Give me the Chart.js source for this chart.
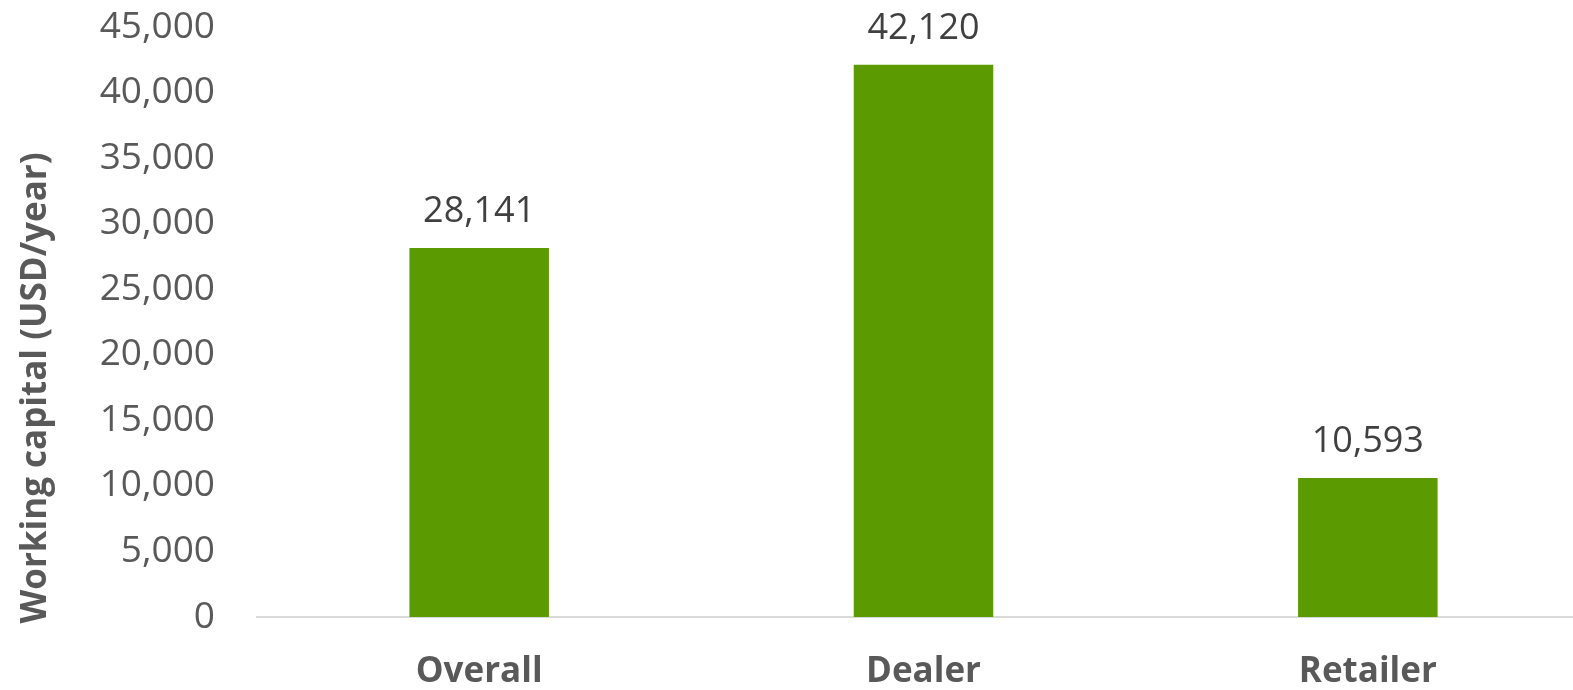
<!DOCTYPE html>
<html>
<head>
<meta charset="utf-8">
<script src="https://cdn.jsdelivr.net/npm/chart.js@4"></script>
<style>
  html, body { margin: 0; padding: 0; background: #fff; overflow: hidden; }
  #wrap { width: 1590px; height: 690px; }
</style>
</head>
<body>
<div id="wrap"><canvas id="chart" width="1590" height="690"></canvas></div>
<script>
const categories = ["Overall", "Dealer", "Retailer"];
const workingCapital = [28141, 42120, 10593];
const yTicks = [0, 5000, 10000, 15000, 20000, 25000, 30000, 35000, 40000, 45000];
const yTitle = "Working capital (USD/year)";

const FONT = "'Open Sans', 'Noto Sans', sans-serif";
const GREY = "#595959";

const fmt = (v) => v.toLocaleString("en-US");

// value labels above each bar
const valueLabels = {
    id: "valueLabels",
    afterDatasetsDraw(chart) {
        const ctx = chart.ctx;
        const meta = chart.getDatasetMeta(0);
        ctx.save();
        ctx.font = "36px " + FONT;
        ctx.fillStyle = "#404040";
        ctx.textAlign = "center";
        ctx.textBaseline = "middle";
        meta.data.forEach((bar, i) => {
            ctx.fillText(fmt(workingCapital[i]), bar.x, bar.y - 36);
        });
        ctx.restore();
    }
};

// rotated axis title, sits a bit lower than the axis centre
const axisTitle = {
    id: "axisTitle",
    afterDraw(chart) {
        const ctx = chart.ctx;
        ctx.save();
        ctx.translate(36, 388);
        ctx.rotate(-Math.PI / 2);
        ctx.font = "bold 35px " + FONT;
        ctx.fillStyle = GREY;
        ctx.textAlign = "center";
        ctx.textBaseline = "middle";
        ctx.fillText(yTitle, 0, 0);
        ctx.restore();
    }
};

new Chart(document.getElementById("chart"), {
    type: "bar",
    data: {
        labels: categories,
        datasets: [{
            data: workingCapital,
            backgroundColor: "#5b9a00",
            barPercentage: 1,
            categoryPercentage: 0.314
        }]
    },
    options: {
        responsive: false,
        animation: false,
        layout: {padding: {top: 27, right: 0, left: 0, bottom: 0}},
        plugins: {legend: {display: false}, tooltip: {enabled: false}},
        scales: {
            x: {
                grid: {display: false, drawTicks: false},
                border: {display: true, color: "#d9d9d9", width: 2},
                ticks: {
                    color: GREY,
                    padding: 34,
                    font: {family: FONT, size: 35, weight: "bold"}
                },
                afterFit: (s) => { s.height = 73; s.paddingLeft = 0; s.paddingRight = 0; }
            },
            y: {
                min: 0,
                max: 45000,
                grid: {display: false, drawTicks: false},
                border: {display: false},
                afterBuildTicks: (s) => { s.ticks = yTicks.map((v) => ({value: v})); },
                ticks: {
                    color: GREY,
                    padding: 42,
                    font: {family: FONT, size: 37},
                    callback: (v) => fmt(v)
                },
                afterFit: (s) => { s.width = 257; s.paddingTop = 0; s.paddingBottom = 0; }
            }
        }
    },
    plugins: [valueLabels, axisTitle]
});
</script>
</body>
</html>
